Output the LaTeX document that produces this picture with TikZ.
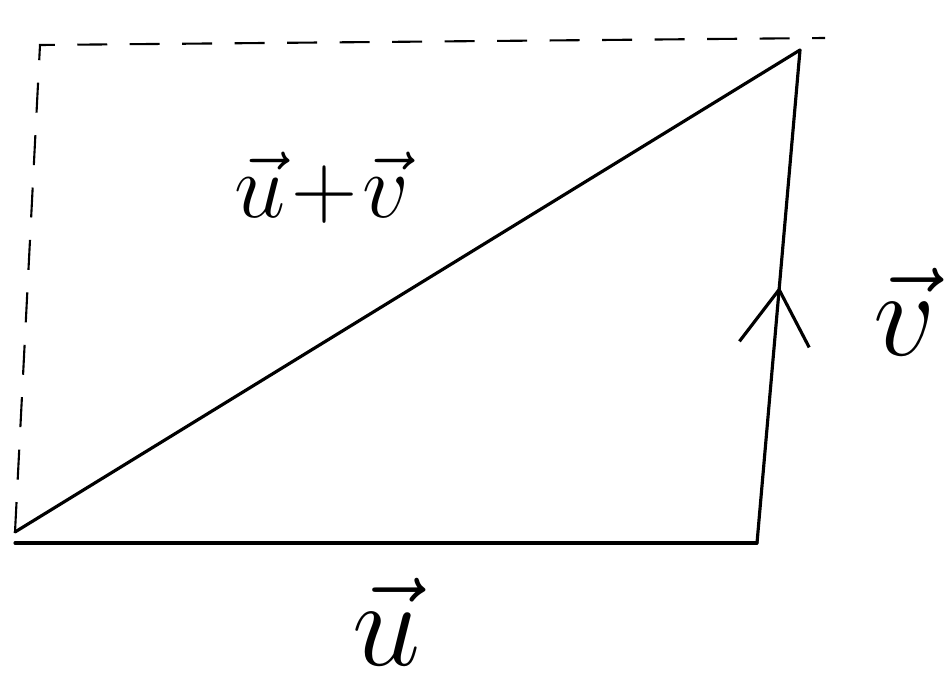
\documentclass[tikz,border=0pt]{standalone}
\usepackage{amsmath,amssymb}
\usepackage{tikz}
\usetikzlibrary{
  arrows.meta, positioning, calc,
  decorations.markings
}

\tikzset{
  vecline/.style={line width=1.8pt, line cap=round},
  guide/.style={line width=1.2pt, dash pattern=on 0.6cm off 0.45cm},
  vlabel/.style={font=\Huge, scale=2.8},
  midarrow/.style={postaction={decorate},
    decoration={markings, mark=at position 0.52 with
      {\arrow{Straight Barb[length=1.1cm,width=1.4cm,line width=1.8pt]}}}}
}

\begin{document}
\begin{tikzpicture}[x=0.02cm,y=-0.02cm]
        \useasboundingbox (0,0) rectangle (949,699);
        % corners of the parallelogram
        \coordinate (O) at (15,532);
        \coordinate (B) at (757,543);
        \coordinate (C) at (800,50);
        \coordinate (D) at (40,45);
        \coordinate (E) at (825,38);
        \draw[vecline] (O |- B) -- (B);
        \draw[vecline, midarrow] (B) -- (C);
        \draw[vecline] (O) -- (C);
        \draw[guide] (O) -- (D) -- (E);
        % labels
        \node[vlabel] (lu) at (387,622) {$\vec{u}$};
        \node[vlabel] (lv) at (905,312) {$\vec{v}$};
        \node[vlabel, scale=0.75] (luv) at (322,188)
          {$\vec{u}\mkern-3mu+\mkern-3mu\vec{v}$};
      \end{tikzpicture}
\end{document}
